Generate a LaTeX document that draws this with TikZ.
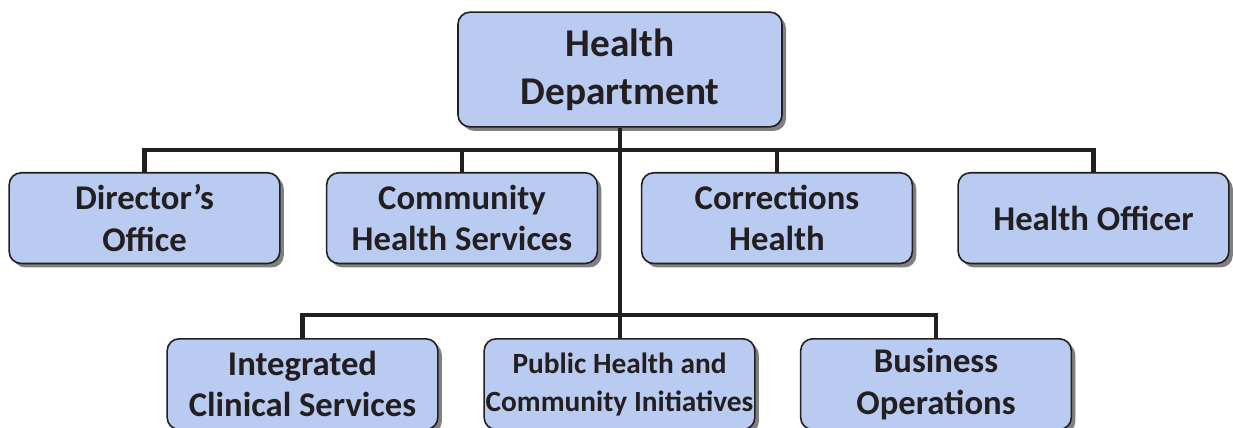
\documentclass[tikz,border=0pt]{standalone}
\usepackage{fontspec}
\setmainfont{Carlito}
\definecolor{boxblue}{RGB}{185,203,240}
\definecolor{edgedark}{RGB}{35,31,32}
\usetikzlibrary{positioning,shadows}

\tikzset{
  unitbox/.style={draw=edgedark, line width=1.2pt, rounded corners=9pt, fill=boxblue,
    drop shadow={shadow xshift=3pt, shadow yshift=-3pt, fill=black!50, opacity=1},
    align=center, inner sep=1pt, minimum width=203pt, minimum height=68pt,
    font=\bfseries\fontsize{26}{31}\selectfont, text=edgedark},
  conn/.style={draw=edgedark, line width=3.6pt}
}

\begin{document}
\begin{tikzpicture}[x=0.75pt, y=-0.75pt]
  \useasboundingbox (0,0) rectangle (1233,428);

  \coordinate (busA) at (620,150);
  \coordinate (busB) at (620,315);

  \node[unitbox, minimum width=243pt, minimum height=86pt,
        font=\bfseries\fontsize{29.5}{36}\selectfont] (hd) at (620,69.5) {Health\\Department};

  \node[unitbox, anchor=north] (do) at (144.5,172) {Director’s\\Office};
  \node[unitbox, anchor=north] (chs) at (462,172) {Community\\Health Services};
  \node[unitbox, anchor=north] (ch) at (777,172) {Corrections\\Health};
  \node[unitbox, anchor=north] (ho) at (1093.5,172) {Health Officer};

  \node[unitbox, anchor=north] (ics) at (302.5,338) {Integrated\\Clinical Services};
  \node[unitbox, anchor=north, inner xsep=0pt, font=\bfseries\fontsize{22}{28.5}\selectfont] (phci) at (619.5,338) {Public Health and\\Community Initiatives};
  \node[unitbox, anchor=north] (bo) at (936,338) {Business\\Operations};

  % trunk and the two buses
  \draw[conn] (hd.south) -- (hd.south |- phci.north);
  \draw[conn] (do.north) |- (busA) -| (ho.north);
  \draw[conn] (chs.north) |- (busA);
  \draw[conn] (ch.north) |- (busA);
  \draw[conn] (ics.north) |- (busB) -| (bo.north);
\end{tikzpicture}
\end{document}
